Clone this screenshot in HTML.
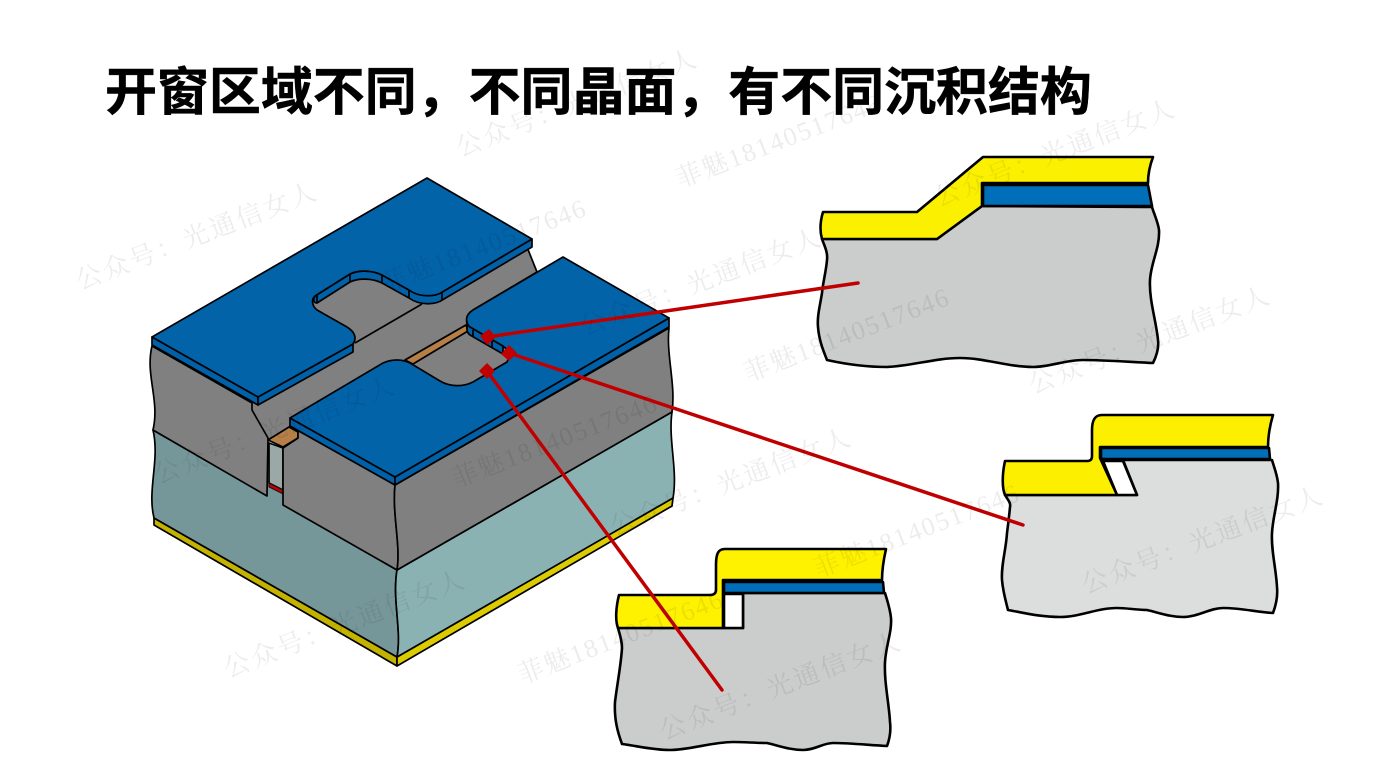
<!DOCTYPE html>
<html lang="zh">
<head>
<meta charset="utf-8">
<style>
html,body{margin:0;padding:0;background:#fff;width:1384px;height:779px;overflow:hidden}
svg{display:block}
.title{font-family:"Liberation Sans","Noto Sans CJK SC",sans-serif;font-weight:700;font-size:51.95px;fill:#000;stroke:#000;stroke-width:.5px}
.wm text{font-family:"Liberation Serif","Noto Serif CJK SC",serif;font-size:26px;letter-spacing:2.6px;fill:#000;fill-opacity:.075}
.wm text.n{letter-spacing:1.8px}
.s{stroke:#000;stroke-width:1.7;stroke-linejoin:round}
.d{stroke:#000;stroke-width:2.6;stroke-linejoin:round}
.soft{filter:blur(.35px)}
</style>
</head>
<body>
<svg width="1384" height="779" viewBox="0 0 1384 779" xmlns="http://www.w3.org/2000/svg">
<rect width="1384" height="779" fill="#fff"/>
<text class="title" x="105" y="110">开窗区域不同，不同晶面，有不同沉积结构</text>

<g class="soft">
<!-- yellow base -->
<path class="s" fill="#c4b200" d="M154,518 L397,657 L397,666 L154,525 Z"/>
<path class="s" fill="#dccb00" d="M397,657 L673,498 L672,506 L397,666 Z"/>
<!-- teal -->
<path class="s" fill="#76979a" d="M153,430 L397,570 C392,600 402,630 397,657 L154,518 C147,490 160,460 153,430 Z"/>
<path class="s" fill="#8bb2b3" d="M397,570 L672,412 C668,440 678,470 673,498 L397,657 C402,630 392,600 397,570 Z"/>
<path fill="#76979a" d="M267,480 L283,488 L283,506 L267,497 Z"/>
<!-- floor: everything under the plates -->
<path fill="#808080" d="M152,346 L427,186 L527,247 L537,272 L563,265 L669,328 L395,485 L290,426 L298,432 L298,438 L283,447 L268,440 L252,410 Z"/>
<path class="s" fill="none" d="M527,247 L537,272"/>
<path class="s" fill="none" d="M422,304 L355,343"/>
<path class="s" fill="none" d="M466,325 L405,360 M537,272 L473,310"/>
<!-- left grey face -->
<path class="s" fill="#808080" d="M152,346 L252,403 L252,410 L268,438 L267,496 L153,430 C160,400 145,375 152,346 Z"/>
<!-- gap -->
<path class="s" fill="#9aa8a6" d="M269,443 L283,448 L283,490 L269,483 Z"/>
<path fill="#c00000" stroke="#111" stroke-width="1" d="M269,483 L283,490 L283,494 L269,487 Z"/>
<path class="s" fill="#b57f47" d="M268,440 L289,427 L298,432 L298,438 L283,447 Z"/>
<!-- right block grey faces -->
<path class="s" fill="#808080" d="M283,448 L298,438 L298,432 L290,426 L395,485 C392,515 401,545 397,570 L283,505 Z"/>
<path class="s" fill="#808080" d="M395,485 L669,328 C666,355 676,385 672,412 L397,570 C401,545 392,515 395,485 Z"/>
<!-- brown strip -->
<path class="s" fill="#b57f47" d="M405,360 L466,325 L468,331 L413,364 Z"/>

<!-- upper plate walls -->
<g class="s" fill="#0060a8">
<path d="M152,337 L258,397 V405 L152,345 Z"/>
<path d="M258,397 L353,344 V352 L258,405 Z"/>
<path d="M315,296 L350,274 C358,270 372,270 382,275 L409,290 C420,298 436,297 444,291 L532,239 V247 L444,299 C436,305 420,306 409,298 L382,283 C372,278 358,278 350,282 L317,303 C313,303 313,299 315,296 Z"/>
</g>
<!-- upper plate top -->
<path class="s" fill="#0363a9" d="M152,337 L427,178 L532,239 L444,291 C436,297 420,298 409,290 L382,275 C372,270 358,270 350,274 L315,296 C311,300 312,306 317,310 L347,327 C355,332 357,338 353,344 L258,397 Z"/>
<path class="s" fill="none" d="M350,274 V282 M382,275 V283 M409,290 V298 M442,292 V300 M317,294 V302"/>

<!-- lower/right plate walls -->
<g class="s" fill="#0060a8">
<path d="M290,418 L395,477 V485 L290,426 Z"/>
<path d="M395,477 L669,318 V327 L395,485 Z"/>
<path d="M467,320 C466,324 468,326 470,327 L503,346 V354 L470,335 C466,332 467,328 467,326 Z"/>
</g>
<!-- lower/right plate top -->
<path class="s" fill="#0363a9" d="M563,257 L669,318 L395,477 L290,418 L383,363 C392,359 402,359 410,363 L440,381 C450,387 463,387 473,382 L507,362 L511,353 L503,346 L470,327 C465,322 465,315 473,310 Z"/>
<path class="s" fill="none" d="M473,330 V337 M492,341 V348"/>

<!-- Diagram A -->
<path class="d" fill="#cbcccc" d="M822,239 C824,245 828,252 827,260 C826,272 823,282 822,293 C820,306 817,316 818,327 C819,340 823,350 827,360 C845,364 865,367 887,367 C912,366 935,358 960,358 C985,358 1008,367 1033,367 C1050,367 1065,360 1083,360 C1105,360 1130,362 1153,363 C1157,355 1159,348 1158,340 C1156,320 1149,300 1150,280 C1151,262 1160,248 1159,230 C1158,222 1154,214 1152,207 L982,206 L937,239 Z"/>
<path class="d" fill="#006eb8" d="M983,185 H1148 L1152,206 H983 Z"/>
<path class="d" fill="#fbf000" d="M823,212 H917 L983,157 H1153 C1150,165 1148,175 1148,183 H982 V206 L937,239 H822 C820,232 820,222 823,212 Z"/>

<!-- Diagram B -->
<path class="d" fill="#dcdddd" d="M1005,495 C1008,500 1011,503 1010,507 C1009,518 1008,525 1007,533 C1006,550 1001,565 1002,580 C1003,592 1006,602 1008,610 C1025,613 1040,617 1060,617 C1080,617 1097,608 1117,608 C1127,608 1137,610 1147,610 C1160,613 1170,617 1183,617 C1198,617 1210,608 1223,608 C1240,608 1257,612 1273,613 C1276,605 1278,597 1277,587 C1276,568 1271,550 1272,533 C1273,515 1279,500 1278,483 C1277,474 1274,467 1272,460 H1123 L1137,495 Z"/>
<path d="M1103,461 H1123 L1137,495 H1117 Z" fill="#fff" class="d"/>
<path class="d" fill="#006eb8" d="M1101,448 H1269 L1270,459 H1101 Z"/>
<path class="d" fill="#fcf000" d="M1005,461 H1087 C1091,461 1092,459 1092,456 V430 C1092,420 1095,415 1102,415 H1273 C1270,425 1268,436 1268,447 H1100 V458 L1117,495 H1005 C1002,488 1002,475 1005,461 Z"/>

<!-- Diagram C -->
<path class="d" fill="#cbcccc" d="M618,628 C620,635 622,641 622,648 C621,665 617,685 615,702 C614,720 618,733 622,744 C638,746 652,750 670,750 C690,750 712,742 733,742 C745,742 755,743 767,743 C780,746 790,750 803,750 C815,750 823,743 833,743 C850,743 868,745 887,746 C890,738 891,730 890,722 C889,703 884,682 885,662 C886,645 892,632 891,618 C890,608 887,600 885,593 H743 V628 Z"/>
<path d="M724,594 H743 V628 H724 Z" fill="#fff" class="d"/>
<path class="d" fill="#006eb8" d="M724,582 H883 L884,593 H724 Z"/>
<path class="d" fill="#fff200" d="M619,595 H710 C714,595 716,593 716,590 V565 C716,554 718,549 725,549 H886 C884,558 882,570 882,580 H723 V628 H618 C615,620 616,607 619,595 Z"/>

<!-- Red leaders -->
<g stroke="#c00000" stroke-width="3.5" fill="none" stroke-linecap="round">
<path d="M487,337 L858,283"/>
<path d="M509,353 L1023,525"/>
<path d="M487,371 L722,690"/>
</g>
<g fill="#c00000">
<path d="M489,329 L496,337 L487,345 L480,336 Z"/>
<path d="M509,345 L517,353 L509,361 L501,354 Z"/>
<path d="M487,363 L495,371 L487,379 L479,371 Z"/>
</g>
</g>

<!-- Watermarks -->
<g class="wm">
<text transform="translate(80,290) rotate(-21)">公众号：光通信女人</text>
<text class="n" transform="translate(385,293) rotate(-21)">菲魅18140517646</text>
<text transform="translate(460,157) rotate(-21)">公众号：光通信女人</text>
<text class="n" transform="translate(680,188) rotate(-21)">菲魅18140517646</text>
<text transform="translate(938,207) rotate(-21)">公众号：光通信女人</text>
<text transform="translate(584,336) rotate(-21)">公众号：光通信女人</text>
<text class="n" transform="translate(748,382) rotate(-21)">菲魅18140517646</text>
<text transform="translate(1033,394) rotate(-21)">公众号：光通信女人</text>
<text transform="translate(158,484) rotate(-21)">公众号：光通信女人</text>
<text class="n" transform="translate(456,488) rotate(-21)">菲魅18140517646</text>
<text transform="translate(614,536) rotate(-21)">公众号：光通信女人</text>
<text class="n" transform="translate(818,578) rotate(-21)">菲魅18140517646</text>
<text transform="translate(1086,594) rotate(-21)">公众号：光通信女人</text>
<text transform="translate(228,678) rotate(-21)">公众号：光通信女人</text>
<text class="n" transform="translate(522,684) rotate(-21)">菲魅18140517646</text>
<text transform="translate(664,740) rotate(-21)">公众号：光通信女人</text>
</g>
</svg>
</body>
</html>
